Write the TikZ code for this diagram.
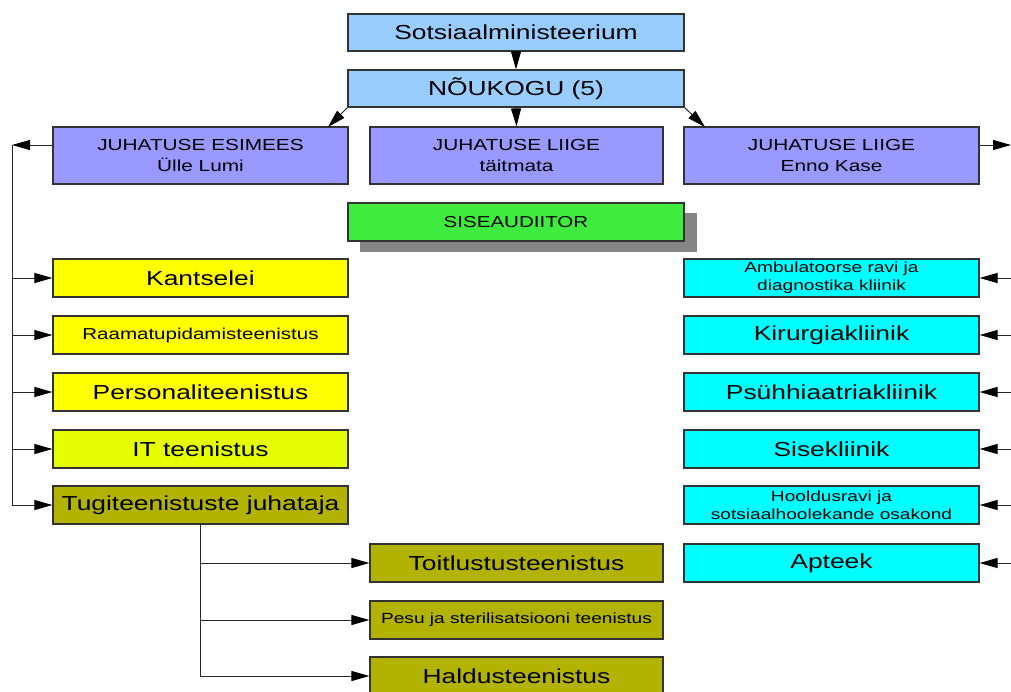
\documentclass[tikz,border=0pt]{standalone}
\usepackage{fontspec}
\setmainfont{Liberation Sans}[FakeStretch=1.3]
\usetikzlibrary{arrows.meta}
\definecolor{cblue}{HTML}{99CCFF}
\definecolor{cpurple}{HTML}{9999FF}
\definecolor{cgreen}{HTML}{3FEB3F}
\definecolor{cyellow}{HTML}{FFFF00}
\definecolor{clime}{HTML}{E6FF00}
\definecolor{colive}{HTML}{B2B200}
\definecolor{ccyan}{HTML}{00FFFF}
\definecolor{cshadow}{HTML}{858585}
\definecolor{cline}{HTML}{333333}
\tikzset{
  bx/.style={draw=cline, line width=1.2pt, inner sep=0pt, align=center, text=black},
  wide/.style={minimum width=336pt, minimum height=37pt},
  col/.style={minimum width=295pt, minimum height=38pt},
  head/.style={minimum width=295pt, minimum height=57pt, fill=cpurple, font=\fontsize{16}{21}\selectfont},
  big/.style={font=\fontsize{20.3}{24}\selectfont},
  mid/.style={font=\fontsize{15.8}{19}\selectfont},
  small/.style={font=\fontsize{14.7}{18}\selectfont},
  conn/.style={draw=black!85, line width=1pt, -{Triangle[length=18pt,width=10pt,color=black,fill=black]}},
  plain/.style={draw=black!85, line width=1pt}
}
\begin{document}
\begin{tikzpicture}[x=1pt,y=-1pt]
\clip (0,0) rectangle (1011,691);
\fill[white] (0,0) rectangle (1011,691);
% top
\node[bx, wide, fill=cblue, big] (min) at (516,32.5) {Sotsiaalministeerium};
\node[bx, wide, fill=cblue, big] (nou) at (516,88.5) {NÕUKOGU (5)};
\node[bx, head] (esi) at (200.5,155.5) {JUHATUSE ESIMEES\\Ülle Lumi};
\node[bx, head, minimum width=293pt] (tai) at (516.5,155.5) {JUHATUSE LIIGE\\täitmata};
\node[bx, head] (enno) at (831.5,155.5) {JUHATUSE LIIGE\\Enno Kase};
% siseaudiitor with shadow
\fill[cshadow] (360,213) rectangle (697,252);
\node[bx, wide, minimum height=38pt, fill=cgreen, mid] (sise) at (516,222) {SISEAUDIITOR};
% left column
\node[bx, col, fill=cyellow, big] (kan) at (200.5,278) {Kantselei};
\node[bx, col, fill=cyellow, mid] (raa) at (200.5,335) {Raamatupidamisteenistus};
\node[bx, col, fill=cyellow, big] (per) at (200.5,392) {Personaliteenistus};
\node[bx, col, fill=clime, big] (it) at (200.5,449) {IT teenistus};
\node[bx, col, fill=colive, big] (tug) at (200.5,505) {Tugiteenistuste juhataja};
% support services
\node[bx, col, minimum width=293pt, fill=colive, big] (toi) at (516.5,563) {Toitlustusteenistus};
\node[bx, col, minimum width=293pt, fill=colive, small] (pes) at (516.5,620) {Pesu ja sterilisatsiooni teenistus};
\node[bx, col, minimum width=293pt, fill=colive, big] (hal) at (516.5,676) {Haldusteenistus};
% right column
\node[bx, col, fill=ccyan, small] (amb) at (831.5,278) {Ambulatoorse ravi ja\\diagnostika kliinik};
\node[bx, col, fill=ccyan, big] (kir) at (831.5,335) {Kirurgiakliinik};
\node[bx, col, fill=ccyan, big] (psu) at (831.5,392) {Psühhiaatriakliinik};
\node[bx, col, fill=ccyan, big] (sis) at (831.5,449) {Sisekliinik};
\node[bx, col, fill=ccyan, small] (hoo) at (831.5,505) {Hooldusravi ja\\sotsiaalhoolekande osakond};
\node[bx, col, fill=ccyan, big] (apt) at (831.5,563) {Apteek};
% coordinates
\coordinate (lt) at (12,145);
\coordinate (lb) at (12,505);
\coordinate (rt) at (1011,145);
\coordinate (tt) at (200,524);
\coordinate (tb) at (200,676);
% top connectors
\draw[conn] (min.south) -- (nou.north);
\draw[conn] (nou.south west) -- (328,127);
\draw[conn] (nou.south) -- (tai.north);
\draw[conn] (nou.south east) -- (705,127);
% left
\draw[conn] (esi.west |- lt) -- (lt);
\draw[plain] (lt) -- (lb);
\foreach \n in {kan,raa,per,it,tug} \draw[conn] (lt |- \n.west) -- (\n.west);
% right
\draw[conn] (enno.east |- rt) -- (rt);
\foreach \n in {amb,kir,psu,sis,hoo,apt} \draw[conn] (rt |- \n.east) -- (\n.east);
% support tree
\draw[plain] (tt) -- (tb);
\foreach \n in {toi,pes,hal} \draw[conn] (tt |- \n.west) -- (\n.west);
\end{tikzpicture}
\end{document}
